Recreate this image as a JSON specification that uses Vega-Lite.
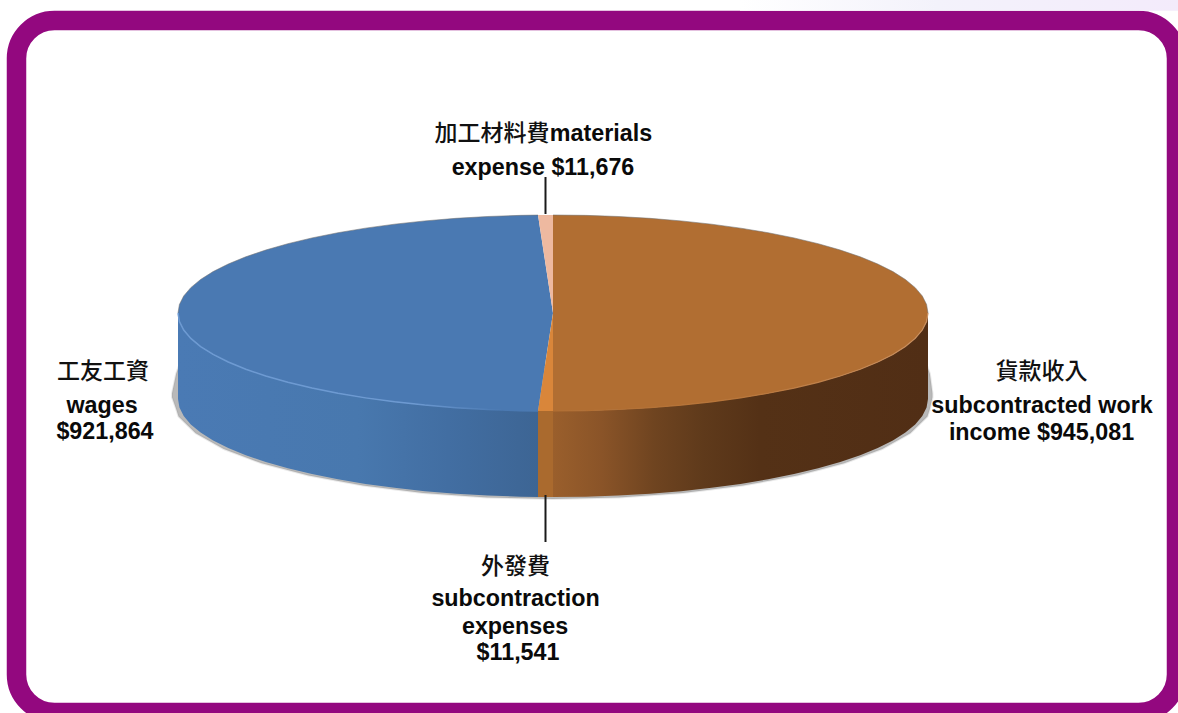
{"$schema":"https://vega.github.io/schema/vega-lite/v6.json","width":1160,"height":692,"autosize":"none","padding":{"left":16.5,"top":20.5,"right":1.5,"bottom":0.5},"background":"#ffffff","config":{"view":{"fill":"#ffffff","stroke":"#93087f","strokeWidth":19.5,"cornerRadius":38}},
"datasets":{
"tint":[{"x":0.4987,"x2":1.6667,"y":3.194,"y2":3.084}],
"shadow":[{"x":-1.016,"y":-0.82,"y2":-0.86},{"x":-1.005,"y":-0.62,"y2":-0.98},{"x":-0.9986,"y":-0.55,"y2":-1.055},{"x":-0.9529,"y":-0.55,"y2":-1.227},{"x":-0.8781,"y":-0.55,"y2":-1.388},{"x":-0.7767,"y":-0.55,"y2":-1.534},{"x":-0.6518,"y":-0.55,"y2":-1.659},{"x":-0.507,"y":-0.55,"y2":-1.761},{"x":-0.3468,"y":-0.55,"y2":-1.837},{"x":-0.176,"y":-0.55,"y2":-1.882},{"x":0,"y":-0.55,"y2":-1.898},{"x":0.176,"y":-0.55,"y2":-1.882},{"x":0.3468,"y":-0.55,"y2":-1.837},{"x":0.507,"y":-0.55,"y2":-1.761},{"x":0.6518,"y":-0.55,"y2":-1.659},{"x":0.7767,"y":-0.55,"y2":-1.534},{"x":0.8781,"y":-0.55,"y2":-1.388},{"x":0.9529,"y":-0.55,"y2":-1.227},{"x":0.9986,"y":-0.55,"y2":-1.055},{"x":1.005,"y":-0.62,"y2":-0.98},{"x":1.012,"y":-0.82,"y2":-0.86}],
"wallBrown":[{"x":0,"y":-1,"y2":-1.878},{"x":0.0872,"y":-0.9962,"y2":-1.8742},{"x":0.1736,"y":-0.9848,"y2":-1.8628},{"x":0.2588,"y":-0.9659,"y2":-1.8439},{"x":0.342,"y":-0.9397,"y2":-1.8177},{"x":0.4226,"y":-0.9063,"y2":-1.7843},{"x":0.5,"y":-0.866,"y2":-1.744},{"x":0.5736,"y":-0.8192,"y2":-1.6972},{"x":0.6428,"y":-0.766,"y2":-1.644},{"x":0.7071,"y":-0.7071,"y2":-1.5851},{"x":0.766,"y":-0.6428,"y2":-1.5208},{"x":0.8192,"y":-0.5736,"y2":-1.4516},{"x":0.866,"y":-0.5,"y2":-1.378},{"x":0.9063,"y":-0.4226,"y2":-1.3006},{"x":0.9397,"y":-0.342,"y2":-1.22},{"x":0.9659,"y":-0.2588,"y2":-1.1368},{"x":0.9848,"y":-0.1736,"y2":-1.0516},{"x":0.9962,"y":-0.0872,"y2":-0.9652},{"x":1,"y":0,"y2":-0.878}],
"wallBlue":[{"x":-1,"y":0,"y2":-0.878},{"x":-0.9962,"y":-0.0872,"y2":-0.9652},{"x":-0.9848,"y":-0.1736,"y2":-1.0516},{"x":-0.9659,"y":-0.2588,"y2":-1.1368},{"x":-0.9397,"y":-0.342,"y2":-1.22},{"x":-0.9063,"y":-0.4226,"y2":-1.3006},{"x":-0.866,"y":-0.5,"y2":-1.378},{"x":-0.8192,"y":-0.5736,"y2":-1.4516},{"x":-0.766,"y":-0.6428,"y2":-1.5208},{"x":-0.7071,"y":-0.7071,"y2":-1.5851},{"x":-0.6428,"y":-0.766,"y2":-1.644},{"x":-0.5736,"y":-0.8192,"y2":-1.6972},{"x":-0.5,"y":-0.866,"y2":-1.744},{"x":-0.4226,"y":-0.9063,"y2":-1.7843},{"x":-0.342,"y":-0.9397,"y2":-1.8177},{"x":-0.2588,"y":-0.9659,"y2":-1.8439},{"x":-0.1736,"y":-0.9848,"y2":-1.8628},{"x":-0.0872,"y":-0.9962,"y2":-1.8742},{"x":-0.04,"y":-0.9992,"y2":-1.8772}],
"wallOrange":[{"x":-0.04,"y":-0.9992,"y2":-1.8772},{"x":0,"y":-1,"y2":-1.878}],
"topBrown":[{"x":0,"y":1,"y2":-1},{"x":0.0872,"y":0.9962,"y2":-0.9962},{"x":0.1736,"y":0.9848,"y2":-0.9848},{"x":0.2588,"y":0.9659,"y2":-0.9659},{"x":0.342,"y":0.9397,"y2":-0.9397},{"x":0.4226,"y":0.9063,"y2":-0.9063},{"x":0.5,"y":0.866,"y2":-0.866},{"x":0.5736,"y":0.8192,"y2":-0.8192},{"x":0.6428,"y":0.766,"y2":-0.766},{"x":0.7071,"y":0.7071,"y2":-0.7071},{"x":0.766,"y":0.6428,"y2":-0.6428},{"x":0.8192,"y":0.5736,"y2":-0.5736},{"x":0.866,"y":0.5,"y2":-0.5},{"x":0.9063,"y":0.4226,"y2":-0.4226},{"x":0.9397,"y":0.342,"y2":-0.342},{"x":0.9659,"y":0.2588,"y2":-0.2588},{"x":0.9848,"y":0.1736,"y2":-0.1736},{"x":0.9962,"y":0.0872,"y2":-0.0872},{"x":1,"y":0,"y2":0}],
"topBlue":[{"x":-1,"y":0,"y2":0},{"x":-0.9962,"y":0.0872,"y2":-0.0872},{"x":-0.9848,"y":0.1736,"y2":-0.1736},{"x":-0.9659,"y":0.2588,"y2":-0.2588},{"x":-0.9397,"y":0.342,"y2":-0.342},{"x":-0.9063,"y":0.4226,"y2":-0.4226},{"x":-0.866,"y":0.5,"y2":-0.5},{"x":-0.8192,"y":0.5736,"y2":-0.5736},{"x":-0.766,"y":0.6428,"y2":-0.6428},{"x":-0.7071,"y":0.7071,"y2":-0.7071},{"x":-0.6428,"y":0.766,"y2":-0.766},{"x":-0.5736,"y":0.8192,"y2":-0.8192},{"x":-0.5,"y":0.866,"y2":-0.866},{"x":-0.4226,"y":0.9063,"y2":-0.9063},{"x":-0.342,"y":0.9397,"y2":-0.9397},{"x":-0.2588,"y":0.9659,"y2":-0.9659},{"x":-0.1736,"y":0.9848,"y2":-0.9848},{"x":-0.0872,"y":0.9962,"y2":-0.9962},{"x":-0.04,"y":0.9992,"y2":-0.9992},{"x":0,"y":0,"y2":0}],
"topPink":[{"x":-0.04,"y":0.9992,"y2":0.9992},{"x":0,"y":1,"y2":0}],
"topOrange":[{"x":-0.04,"y":-0.9992,"y2":-0.9992},{"x":0,"y":0,"y2":-1}],
"rules":[{"x":-0.02,"y":1.388,"y2":1.0102},{"x":-0.02,"y":-1.857,"y2":-2.337}],
"cjk":[{"x":-0.1627,"y":1.8265,"t":"加工材料費"},{"x":-1.2,"y":-0.607,"t":"工友工資"},{"x":1.3027,"y":-0.607,"t":"貨款收入"},{"x":-0.1,"y":-2.5916,"t":"外發費"}],
"latin":[{"x":0.128,"y":1.8265,"t":"materials"},{"x":-0.0267,"y":1.4796,"t":"expense $11,676"},{"x":-1.2027,"y":-0.949,"t":"wages"},{"x":-1.1947,"y":-1.2143,"t":"$921,864"},{"x":1.304,"y":-0.949,"t":"subcontracted work"},{"x":1.3027,"y":-1.2245,"t":"income $945,081"},{"x":-0.1,"y":-2.9184,"t":"subcontraction"},{"x":-0.1013,"y":-3.204,"t":"expenses"},{"x":-0.0933,"y":-3.4694,"t":"$11,541"}]
},
"encoding":{"x":{"field":"x","type":"quantitative","axis":null,"scale":{"domain":[-1.43067,1.66267],"nice":false,"zero":false}},"y":{"field":"y","type":"quantitative","axis":null,"scale":{"domain":[-4.0765,2.9847],"nice":false,"zero":false}}},
"layer":[
{"data":{"name":"tint"},"mark":{"type":"rect","clip":false,"fill":{"gradient":"linear","x1":0,"y1":0,"x2":1,"y2":0,"stops":[{"offset":0,"color":"#ffffff"},{"offset":0.45,"color":"#f3f2fb"},{"offset":1,"color":"#f3ebfb"}]}},"encoding":{"x2":{"field":"x2"},"y2":{"field":"y2"}}},
{"data":{"name":"shadow"},"mark":{"type":"area","fill":"#8a8a8a","fillOpacity":0.6,"stroke":"#8a8a8a","strokeOpacity":0.18,"strokeWidth":2},"encoding":{"y2":{"field":"y2"}}},
{"data":{"name":"wallBrown"},"mark":{"type":"area","fill":{"gradient":"linear","x1":0,"y1":0,"x2":1,"y2":0,"stops":[{"offset":0,"color":"#9a5f2c"},{"offset":0.13,"color":"#8a5428"},{"offset":0.27,"color":"#6f4420"},{"offset":0.4,"color":"#5f3a1b"},{"offset":0.55,"color":"#543116"},{"offset":1,"color":"#512e15"}]}},"encoding":{"y2":{"field":"y2"}}},
{"data":{"name":"wallBlue"},"mark":{"type":"area","fill":{"gradient":"linear","x1":0,"y1":0,"x2":1,"y2":0,"stops":[{"offset":0,"color":"#4a7ab4"},{"offset":0.5,"color":"#4878ae"},{"offset":0.75,"color":"#426ea2"},{"offset":1,"color":"#3d6594"}]}},"encoding":{"y2":{"field":"y2"}}},
{"data":{"name":"wallOrange"},"mark":{"type":"area","fill":"#aa6a2e"},"encoding":{"y2":{"field":"y2"}}},
{"data":{"name":"topBlue"},"mark":{"type":"area","fill":"#4a79b2"},"encoding":{"y2":{"field":"y2"}}},
{"data":{"name":"topBrown"},"mark":{"type":"area","fill":"#b16e32"},"encoding":{"y2":{"field":"y2"}}},
{"data":{"name":"topPink"},"mark":{"type":"area","fill":"#eeb9a0"},"encoding":{"y2":{"field":"y2"}}},
{"data":{"name":"topOrange"},"mark":{"type":"area","fill":"#d9863a"},"encoding":{"y2":{"field":"y2"}}},
{"data":{"name":"wallBlue"},"mark":{"type":"line","strokeWidth":1.5,"stroke":{"gradient":"linear","x1":0,"y1":0,"x2":1,"y2":0,"stops":[{"offset":0,"color":"#6d9ad2"},{"offset":0.65,"color":"#6d9ad2"},{"offset":0.9,"color":"#4a79b2"},{"offset":1,"color":"#4a79b2"}]}}},
{"data":{"name":"wallBrown"},"mark":{"type":"line","strokeWidth":1.2,"stroke":{"gradient":"linear","x1":0,"y1":0,"x2":1,"y2":0,"stops":[{"offset":0,"color":"#b16e32"},{"offset":0.5,"color":"#b9763a"},{"offset":1,"color":"#c98f5f"}]}}},
{"data":{"name":"topBrown"},"mark":{"type":"line","strokeWidth":1,"stroke":"#6f6f6f","strokeOpacity":0.55}},
{"data":{"name":"topBlue"},"transform":[{"filter":"datum.x < -0.01"}],"mark":{"type":"line","strokeWidth":1,"stroke":"#6f6f6f","strokeOpacity":0.55}},
{"data":{"name":"rules"},"mark":{"type":"rule","color":"#1a1a1a","strokeWidth":2},"encoding":{"y2":{"field":"y2"}}},
{"data":{"name":"cjk"},"mark":{"type":"text","font":"Noto Sans CJK TC","fontSize":23,"fontWeight":500,"color":"#111111","align":"center","baseline":"middle"},"encoding":{"text":{"field":"t"}}},
{"data":{"name":"latin"},"mark":{"type":"text","font":"Liberation Sans","fontWeight":"bold","fontSize":23.3,"color":"#0a0a0a","align":"center","baseline":"middle"},"encoding":{"text":{"field":"t"}}}
]}
